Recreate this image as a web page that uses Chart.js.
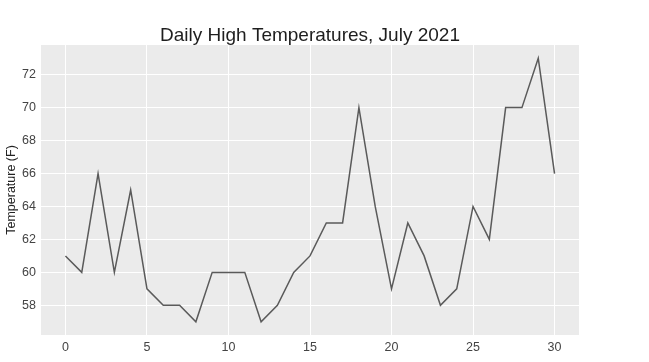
<!DOCTYPE html>
<html>
<head>
<meta charset="utf-8">
<script src="https://cdn.jsdelivr.net/npm/chart.js@4"></script>
<style>
  html, body { margin: 0; padding: 0; background: #fff; }
  #wrap { width: 649px; height: 362px; }
</style>
</head>
<body>
<div id="wrap"><canvas id="tempChart"></canvas></div>
<script>
var days = [0, 1, 2, 3, 4, 5, 6, 7, 8, 9, 10, 11, 12, 13, 14, 15,
            16, 17, 18, 19, 20, 21, 22, 23, 24, 25, 26, 27, 28, 29, 30];
var highs = [61, 60, 66, 60, 65, 59, 58, 58, 57, 60, 60, 60, 57, 58, 60, 61,
             63, 63, 70, 64, 59, 63, 61, 58, 59, 64, 62, 70, 70, 73, 66];
var xTicks = [0, 5, 10, 15, 20, 25, 30];
var yTicks = [58, 60, 62, 64, 66, 68, 70, 72];
var chartTitle = 'Daily High Temperatures, July 2021';
var yTitle = 'Temperature (F)';

var FONT = "'Liberation Sans', Arial, sans-serif";

// grey panel behind the plot + title centred over the plot area
var panelPlugin = {
    id: 'panel',
    beforeDraw: function (chart) {
        var a = chart.chartArea, ctx = chart.ctx;
        ctx.save();
        ctx.fillStyle = '#ebebeb';
        ctx.fillRect(a.left, a.top, a.right - a.left, a.bottom - a.top);
        ctx.restore();
    },
    afterDraw: function (chart) {
        var a = chart.chartArea, ctx = chart.ctx;
        ctx.save();
        ctx.fillStyle = '#1e1e1e';
        ctx.font = '19px ' + FONT;
        ctx.textAlign = 'center';
        ctx.textBaseline = 'alphabetic';
        ctx.fillText(chartTitle, (a.left + a.right) / 2, 41);
        ctx.restore();
    }
};

var points = days.map(function (d, i) { return { x: d, y: highs[i] }; });

new Chart(document.getElementById('tempChart').getContext('2d'), {
    type: 'line',
    data: {
        datasets: [{
            data: points,
            borderColor: '#5a5a5a',
            borderWidth: 1.5,
            pointRadius: 0,
            tension: 0,
            fill: false
        }]
    },
    options: {
        responsive: true,
        maintainAspectRatio: false,
        animation: false,
        layout: { padding: { top: 45, right: 70, left: 0, bottom: 0 } },
        plugins: {
            legend: { display: false },
            title: { display: false },
            tooltip: { enabled: false }
        },
        scales: {
            x: {
                type: 'linear',
                min: -1.5,
                max: 31.5,
                afterBuildTicks: function (s) {
                    s.ticks = xTicks.map(function (v) { return { value: v }; });
                },
                afterFit: function (s) { s.height = 27; },
                grid: { color: '#ffffff', lineWidth: 1, drawTicks: false },
                border: { display: false },
                ticks: {
                    color: '#444',
                    padding: 5,
                    maxRotation: 0,
                    font: { family: FONT, size: 12.5 }
                }
            },
            y: {
                min: 56.2,
                max: 73.8,
                afterBuildTicks: function (s) {
                    s.ticks = yTicks.map(function (v) { return { value: v }; });
                },
                afterFit: function (s) { s.width = 41; },
                grid: { color: '#ffffff', lineWidth: 1, drawTicks: false },
                border: { display: false },
                title: {
                    display: true,
                    text: yTitle,
                    color: '#222',
                    font: { family: FONT, size: 12.5 },
                    padding: { top: 4, bottom: 0 }
                },
                ticks: {
                    color: '#444',
                    padding: 5,
                    font: { family: FONT, size: 12.5 }
                }
            }
        }
    },
    plugins: [panelPlugin]
});
</script>
</body>
</html>
